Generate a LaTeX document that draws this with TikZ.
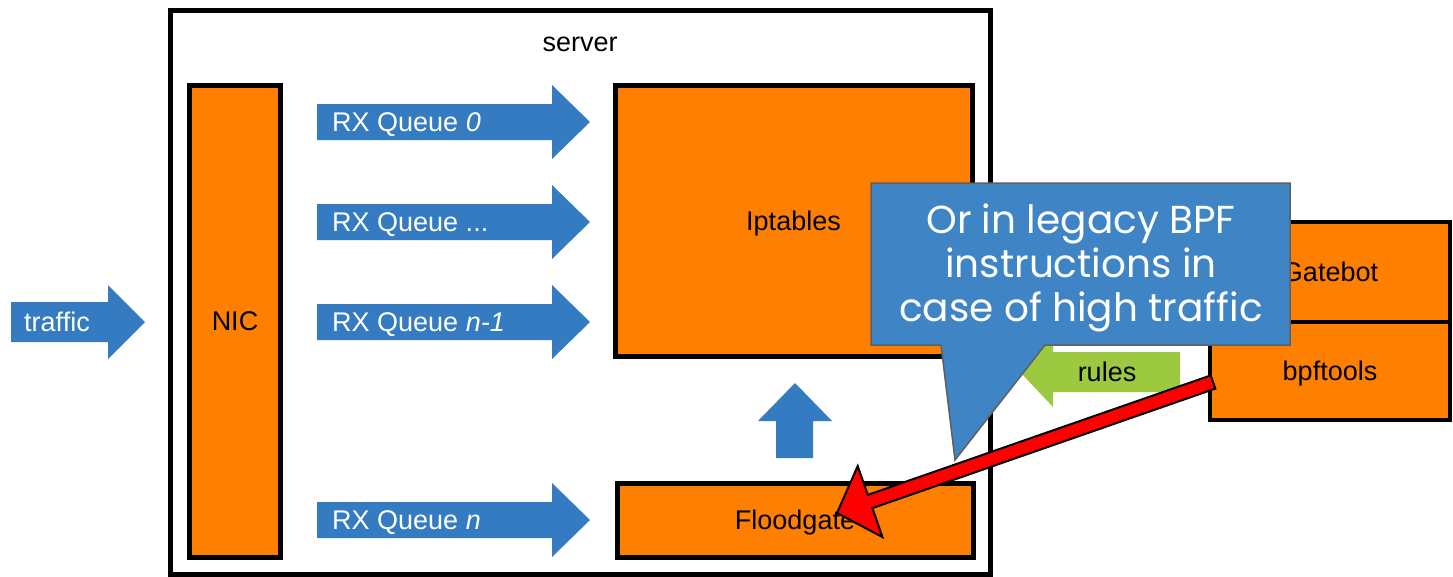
\documentclass[tikz,border=0pt]{standalone}
\usepackage{fontspec}
\setmainfont{Liberation Sans}
\newfontfamily\calloutfont{Poppins}
\usepackage{tikz}
\definecolor{boxorange}{HTML}{FF7F00}
\definecolor{arrowblue}{HTML}{347BC2}
\definecolor{calloutblue}{HTML}{3F85C6}
\definecolor{rulesgreen}{HTML}{9CC93F}
\definecolor{edgegrey}{HTML}{5F5F5F}

\begin{document}
\begin{tikzpicture}[x=1pt,y=-1pt,font=\fontsize{27}{32}\selectfont,
	box/.style={draw=black,line width=5,fill=boxorange,inner sep=0,text height=19.5,text depth=0},
	lbl/.style={inner sep=0,text height=19.5,text depth=0}]
	\useasboundingbox (0,0) rectangle (1453,576);
	% server frame
	\draw[line width=5,fill=white] (170.5,10) rectangle (990,574);
	\node[lbl] (server) at (580,42) {server};
	% incoming traffic
	\fill[arrowblue] (11,302) -- (108,302) -- (108,285) -- (145,322) -- (108,359) -- (108,342) -- (11,342) -- cycle;
	\node[lbl,text=white] (traffic) at (57,322) {traffic};
	\node[box,minimum width=91,minimum height=472] (nic) at (235,321) {NIC};
	% rx queues
	\fill[arrowblue] (317,104) -- (552,104) -- (552,85) -- (590,122) -- (552,159) -- (552,140) -- (317,140) -- cycle;
	\fill[arrowblue] (317,204) -- (552,204) -- (552,185) -- (590,222) -- (552,259) -- (552,240) -- (317,240) -- cycle;
	\fill[arrowblue] (317,304) -- (552,304) -- (552,285) -- (590,322) -- (552,359) -- (552,340) -- (317,340) -- cycle;
	\fill[arrowblue] (317,502) -- (552,502) -- (552,483) -- (590,520) -- (552,557) -- (552,538) -- (317,538) -- cycle;
	\node[lbl,anchor=west,text=white] (q0) at (332,122) {RX Queue \textit{0}};
	\node[lbl,anchor=west,text=white] (qdots) at (332,222) {RX Queue ...};
	\node[lbl,anchor=west,text=white] (qn1) at (332,322) {RX Queue \textit{n-1}};
	\node[lbl,anchor=west,text=white] (qn) at (332,520) {RX Queue \textit{n}};
	\node[box,minimum width=357,minimum height=271] (iptables) at (793.5,220.5) {Iptables};
	\node[box,minimum width=356,minimum height=74] (floodgate) at (795,520) {Floodgate};
	\fill[arrowblue] (795,383) -- (832,421) -- (813,421) -- (813,458) -- (776,458) -- (776,421) -- (758,421) -- cycle;
	% outside the server
	\node[box,line width=4.5,minimum width=240,minimum height=100] (gatebot) at (1330,272) {Gatebot};
	\node[box,line width=4.5,minimum width=240,minimum height=98] (bpftools) at (1330,371) {bpftools};
	\fill[rulesgreen] (1180,352) -- (1053,352) -- (1053,337) -- (1020,372) -- (1053,407) -- (1053,392) -- (1180,392) -- cycle;
	\node[lbl] (rules) at (1107,372) {rules};
	% speech bubble
	\filldraw[fill=calloutblue,draw=edgegrey,line width=1.5] (871,183) -- (1290,183) -- (1290,345) -- (1045,345) -- (955,460) -- (941,345) -- (871,345) -- cycle;
	\node[align=center,text=white,inner sep=0,font=\calloutfont\fontsize{39}{44}\selectfont] (callout) at (1081,268) {Or in legacy BPF\\instructions in\\case of high traffic};
	\filldraw[fill=red,draw=black,line width=2] (837,513) -- (882.4,537) -- (872.4,508.1) -- (1215.3,388.6) -- (1210.7,375.4) -- (867.8,494.9) -- (857.7,466) -- cycle;
\end{tikzpicture}
\end{document}
